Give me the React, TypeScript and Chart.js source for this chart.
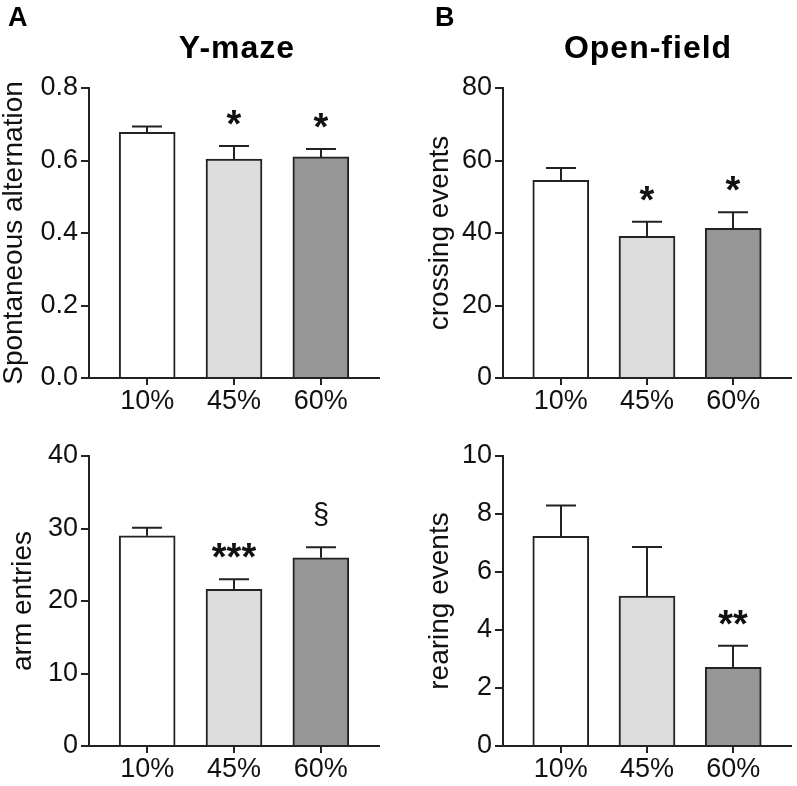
import React, { useEffect, useRef } from 'react';
import { Chart, registerables } from 'chart.js';

Chart.register(...registerables);

// ---------- data ----------
const CATEGORIES = ['10%', '45%', '60%'];
const BAR_COLORS = ['#ffffff', '#dcdcdc', '#969696'];

const ALT_MEAN = [0.678, 0.604, 0.61];
const ALT_SEM = [0.016, 0.036, 0.022];
const ALT_SIG = ['', '*', '*'];

const CROSS_MEAN = [54.5, 39.1, 41.3];
const CROSS_SEM = [3.4, 4.0, 4.4];
const CROSS_SIG = ['', '*', '*'];

const ARM_MEAN = [29.0, 21.6, 25.95];
const ARM_SEM = [1.1, 1.4, 1.45];
const ARM_SIG = ['', '***', '§'];

const REAR_MEAN = [7.23, 5.17, 2.71];
const REAR_SEM = [1.06, 1.69, 0.75];
const REAR_SIG = ['', '', '**'];

const Y_MAX = [0.8, 80, 40, 10];
const Y_STEP = [0.2, 20, 10, 2];
const Y_DECIMALS = [1, 0, 0, 0];
const Y_TITLES = ['Spontaneous alternation', 'crossing events', 'arm entries', 'rearing events'];
const PANEL_TITLES = ['Y-maze', 'Open-field'];
const PANEL_LETTERS = ['A', 'B'];

// ---------- style ----------
const FONT = '"Liberation Sans", Arial, Helvetica, sans-serif';
const INK = '#111111';
const LINE = '#222222';
const TICK_SIZE = 27;
const TITLE_SIZE = 28;
const X_MIN = 0.33;
const X_MAX = 3.67;

type PanelProps = {
  cx: number; cy: number; w: number; h: number;
  L: number; T: number; R: number; B: number;
  titleX: number;
  yTitle: string;
  means: number[]; sems: number[]; sig: string[];
  yMax: number; yStep: number; decimals: number;
};

function Panel(p: PanelProps) {
  const ref = useRef<HTMLCanvasElement>(null);
  useEffect(() => {
    const canvas = ref.current!;
    const { cx, cy, w, h, L, T, R, B, titleX } = p;
    const padLeft = titleX - cx - TITLE_SIZE / 2;

    const errPlugin = {
      id: 'errorBarsSig',
      afterDatasetsDraw(chart: any) {
        const ctx = chart.ctx;
        const y = chart.scales.y;
        const meta = chart.getDatasetMeta(0);
        ctx.save();
        ctx.strokeStyle = LINE;
        ctx.lineWidth = 2;
        meta.data.forEach((bar: any, i: number) => {
          const mean = p.means[i];
          const sem = p.sems[i];
          const yBase = y.getPixelForValue(mean);
          const yTop = y.getPixelForValue(mean + sem);
          const x = Math.round(bar.x);
          ctx.beginPath();
          ctx.moveTo(x, yBase);
          ctx.lineTo(x, yTop);
          ctx.moveTo(x - 15, yTop);
          ctx.lineTo(x + 15, yTop);
          ctx.stroke();
          const label = p.sig[i];
          if (label) {
            if (label.includes('*')) ctx.font = `bold 38px ${FONT}`;
            else ctx.font = `29px ${FONT}`;
            ctx.fillStyle = INK;
            ctx.textAlign = 'center';
            ctx.textBaseline = 'alphabetic';
            const m = ctx.measureText(label);
            const desc = m.actualBoundingBoxDescent || 0;
            const baseline = yTop - 21 - desc;
            ctx.fillText(label, x, baseline);
          }
        });
        ctx.restore();
      },
    };

    const chart = new Chart(canvas, {
      type: 'bar',
      data: {
        datasets: [
          {
            data: p.means.map((m, i) => ({ x: i + 1, y: m })) as any,
            backgroundColor: BAR_COLORS,
            borderColor: LINE,
            borderWidth: 2,
            borderSkipped: 'start',
            barThickness: 56,
          } as any,
        ],
      },
      options: {
        responsive: false,
        animation: false,
        events: [],
        layout: { padding: { left: padLeft, top: T - cy, right: cx + w - R, bottom: 0 } },
        plugins: { legend: { display: false }, tooltip: { enabled: false }, title: { display: false } },
        scales: {
          x: {
            type: 'linear',
            min: X_MIN,
            max: X_MAX,
            offset: false,
            afterBuildTicks: (s: any) => {
              s.ticks = CATEGORIES.map((_, i) => ({ value: i + 1 }));
            },
            afterFit: (s: any) => {
              s.height = cy + h - B;
            },
            grid: { display: true, offset: false, drawOnChartArea: false, drawTicks: true, tickLength: 7, color: LINE, lineWidth: 2 },
            border: { display: true, color: LINE, width: 2 },
            ticks: {
              autoSkip: false,
              maxRotation: 0,
              padding: 0,
              color: INK,
              font: { family: FONT, size: TICK_SIZE },
              callback: (_v: any, i: number) => CATEGORIES[i],
            },
          },
          y: {
            type: 'linear',
            min: 0,
            max: p.yMax,
            afterFit: (s: any) => {
              s.width = L - cx - padLeft;
            },
            grid: { display: true, drawOnChartArea: false, drawTicks: true, tickLength: 8, color: LINE, lineWidth: 2 },
            border: { display: true, color: LINE, width: 2 },
            ticks: {
              stepSize: p.yStep,
              padding: 3,
              color: INK,
              font: { family: FONT, size: TICK_SIZE },
              callback: (v: any) => Number(v).toFixed(p.decimals),
            },
            title: {
              display: true,
              text: p.yTitle,
              color: INK,
              padding: { top: 0, bottom: 0 },
              font: { family: FONT, size: TITLE_SIZE, lineHeight: 1 },
            },
          },
        },
      } as any,
      plugins: [errPlugin],
    });
    return () => chart.destroy();
  }, []);

  return (
    <canvas
      ref={ref}
      width={p.w}
      height={p.h}
      style={{ position: 'absolute', left: p.cx, top: p.cy, width: p.w, height: p.h }}
    />
  );
}

const textStyle = (left: number, top: number, size: number, extra: any = {}) => ({
  position: 'absolute' as const,
  left,
  top,
  fontFamily: FONT,
  fontWeight: 'bold' as const,
  fontSize: size,
  lineHeight: `${size}px`,
  color: '#000',
  whiteSpace: 'nowrap' as const,
  ...extra,
});

export default function App() {
  return (
    <div style={{ position: 'absolute', left: 0, top: 0, width: 797, height: 786, background: '#fff', overflow: 'hidden' }}>
      <Panel cx={0} cy={0} w={400} h={420} L={89} T={88} R={379} B={378} titleX={14}
        yTitle={Y_TITLES[0]} means={ALT_MEAN} sems={ALT_SEM} sig={ALT_SIG}
        yMax={Y_MAX[0]} yStep={Y_STEP[0]} decimals={Y_DECIMALS[0]} />
      <Panel cx={400} cy={0} w={397} h={420} L={503} T={88} R={791} B={378} titleX={440}
        yTitle={Y_TITLES[1]} means={CROSS_MEAN} sems={CROSS_SEM} sig={CROSS_SIG}
        yMax={Y_MAX[1]} yStep={Y_STEP[1]} decimals={Y_DECIMALS[1]} />
      <Panel cx={0} cy={420} w={400} h={366} L={89} T={456} R={379} B={746} titleX={23}
        yTitle={Y_TITLES[2]} means={ARM_MEAN} sems={ARM_SEM} sig={ARM_SIG}
        yMax={Y_MAX[2]} yStep={Y_STEP[2]} decimals={Y_DECIMALS[2]} />
      <Panel cx={400} cy={420} w={397} h={366} L={503} T={456} R={791} B={746} titleX={440}
        yTitle={Y_TITLES[3]} means={REAR_MEAN} sems={REAR_SEM} sig={REAR_SIG}
        yMax={Y_MAX[3]} yStep={Y_STEP[3]} decimals={Y_DECIMALS[3]} />

      <div style={textStyle(8, 4, 27)}>{PANEL_LETTERS[0]}</div>
      <div style={textStyle(435, 4, 27)}>{PANEL_LETTERS[1]}</div>
      <div style={textStyle(137, 31, 32, { width: 200, textAlign: 'center', letterSpacing: 1 })}>{PANEL_TITLES[0]}</div>
      <div style={textStyle(548, 31, 32, { width: 200, textAlign: 'center', letterSpacing: 1 })}>{PANEL_TITLES[1]}</div>
    </div>
  );
}
